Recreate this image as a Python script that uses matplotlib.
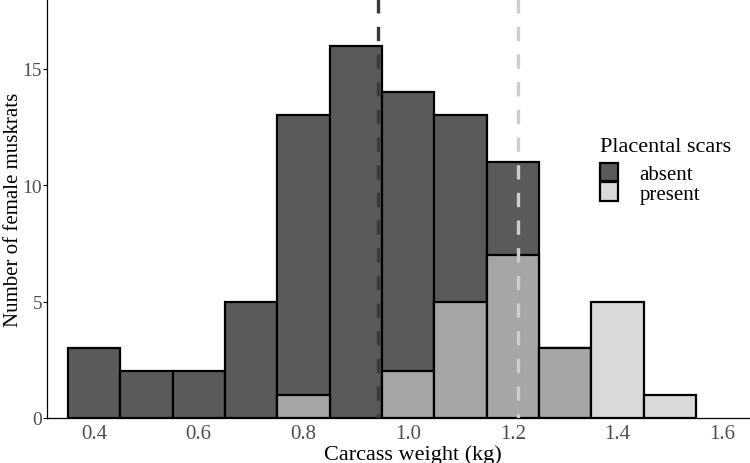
import numpy as np
import matplotlib
matplotlib.use("Agg")
import matplotlib.pyplot as plt
from matplotlib.patches import Patch

# histogram bins (centres, kg) and counts
bin_centres = [0.4, 0.5, 0.6, 0.7, 0.8, 0.9, 1.0, 1.1, 1.2, 1.3, 1.4, 1.5]
absent = [3, 2, 2, 5, 13, 16, 14, 13, 11, 3, 0, 0]
present = [0, 0, 0, 0, 1, 0, 2, 5, 7, 3, 5, 1]

# group means (dashed lines)
mean_absent = 0.943
mean_present = 1.21

dark = "#5a5a5a"
light = "#d9d9d9"
overlap = "#a6a6a6"

plt.rcParams['font.family'] = ['Liberation Serif', 'DejaVu Serif']

fig = plt.figure(figsize=(7.5, 4.64), dpi=100)
ax = fig.add_axes([0.0627, 0.097, 0.936, 0.903])

w = 0.1
for x, a in zip(bin_centres, absent):
    if a > 0:
        ax.bar(x, a, width=w, color=dark, edgecolor="black", linewidth=1.6, zorder=2)
for x, a, p in zip(bin_centres, absent, present):
    if p > 0:
        ax.bar(x, p, width=w, color=overlap if a > 0 else light,
               edgecolor="black", linewidth=1.6, zorder=3)

ax.axvline(mean_absent, color="#3a3a3a", lw=2.4, ls=(3, (4.3, 4.0)), zorder=4)
ax.axvline(mean_present, color="#cdcdcd", lw=2.4, ls=(3, (4.3, 4.0)), zorder=4)

ax.set_xlim(0.3102, 1.6516)
ax.set_ylim(0, 18)
ax.set_xticks([0.4, 0.6, 0.8, 1.0, 1.2, 1.4, 1.6])
ax.set_xticklabels(["0.4", "0.6", "0.8", "1.0", "1.2", "1.4", "1.6"])
ax.set_yticks([0, 5, 10, 15])
ax.tick_params(axis="x", length=0, pad=4, labelsize=15, colors="#4d4d4d")
ax.tick_params(axis="y", length=3, width=0.8, pad=0.5, labelsize=14, colors="#4d4d4d")
ax.tick_params(axis="y", color="black")

for s in ["top", "right"]:
    ax.spines[s].set_visible(False)
ax.spines["left"].set_linewidth(0.9)
ax.spines["bottom"].set_linewidth(0.9)

ax.set_xlabel("Carcass weight (kg)", fontsize=16)
ax.set_ylabel("Number of female muskrats", fontsize=15)
ax.xaxis.set_label_coords(0.5214, -0.062)
ax.yaxis.set_label_coords(-0.0339, 0.5)

# legend: title as plain text, entries below it
fig.text(600 / 750, 1 - 148 / 464, "Placental scars", fontsize=16,
         ha="left", va="center")
handles = [Patch(facecolor=dark, edgecolor="black", linewidth=1.6, label="absent"),
           Patch(facecolor=light, edgecolor="black", linewidth=1.6, label="present")]
leg = ax.legend(handles=handles, loc="upper left",
                bbox_to_anchor=(0.7725, 0.634), frameon=False, fontsize=15,
                handlelength=0.9, handleheight=1.0, borderpad=0,
                handletextpad=1.0, labelspacing=-0.1)

fig.savefig("out.png", dpi=100)
